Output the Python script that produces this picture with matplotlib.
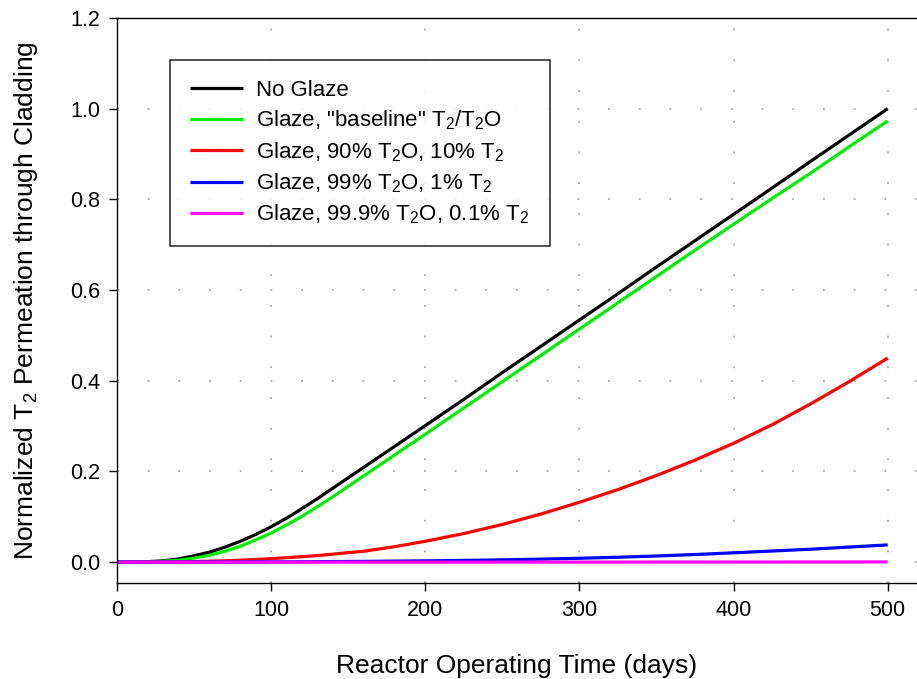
import matplotlib
matplotlib.use("Agg")
import matplotlib.pyplot as plt

plt.rcParams['font.family'] = ['Liberation Sans', 'DejaVu Sans']
plt.rcParams['mathtext.fontset'] = 'custom'
plt.rcParams['mathtext.rm'] = 'Liberation Sans'
plt.rcParams['mathtext.it'] = 'Liberation Sans:italic'

# days
days = [0, 10, 20, 30, 40, 50, 60, 70, 80, 90, 100, 110, 120, 130, 140, 150,
        160, 170, 180, 190, 200, 225, 250, 275, 300, 325, 350, 375, 400, 425,
        450, 475, 500]

no_glaze = [0.0, 0.0003, 0.001, 0.003, 0.007, 0.014, 0.022, 0.033, 0.046, 0.061,
            0.078, 0.097, 0.118, 0.140, 0.163, 0.186, 0.209, 0.232, 0.255, 0.278,
            0.301, 0.359, 0.418, 0.476, 0.534, 0.592, 0.651, 0.709, 0.767, 0.825,
            0.884, 0.942, 1.0]
baseline = [0.0, 0.0002, 0.0006, 0.002, 0.004, 0.009, 0.015, 0.024, 0.035, 0.049,
            0.064, 0.082, 0.101, 0.122, 0.144, 0.167, 0.190, 0.213, 0.236, 0.259,
            0.282, 0.340, 0.398, 0.456, 0.514, 0.572, 0.630, 0.688, 0.745, 0.802,
            0.858, 0.916, 0.973]
t2o_90 = [0.0, 0.0, 0.0001, 0.0003, 0.0007, 0.0013, 0.002, 0.003, 0.0042, 0.0058,
          0.0077, 0.0098, 0.012, 0.0145, 0.0175, 0.021, 0.024, 0.029, 0.034, 0.040,
          0.046, 0.063, 0.083, 0.106, 0.132, 0.160, 0.191, 0.225, 0.262, 0.303,
          0.349, 0.398, 0.450]
t2o_99 = [0.0, 0.0, 0.0, 0.0, 0.0, 0.0001, 0.0001, 0.0002, 0.0003, 0.0004,
          0.0005, 0.0006, 0.0008, 0.001, 0.0012, 0.0014, 0.0016, 0.0019, 0.0022, 0.0025,
          0.0028, 0.0038, 0.005, 0.0066, 0.0085, 0.0108, 0.0135, 0.0168, 0.0205, 0.0245,
          0.0285, 0.0332, 0.038]
t2o_999 = [0.0, 0.0, 0.0, 0.0, 0.0, 0.0, 0.0, 0.0, 0.0, 0.0,
           0.0, 0.0, 0.0, 0.0, 0.0, 0.0, 0.0, 0.0, 0.0, 0.0,
           0.0, 0.0, 0.0001, 0.0001, 0.0001, 0.0001, 0.0002, 0.0002, 0.0003, 0.0003,
           0.0004, 0.0004, 0.0005]

labels = ['No Glaze',
          r'Glaze, "baseline" $\mathregular{T_2/T_2O}$',
          r'Glaze, 90% $\mathregular{T_2O}$, 10% $\mathregular{T_2}$',
          r'Glaze, 99% $\mathregular{T_2O}$, 1% $\mathregular{T_2}$',
          r'Glaze, 99.9% $\mathregular{T_2O}$, 0.1% $\mathregular{T_2}$']
colors = ['black', '#00ee00', '#ff0000', '#0000ff', '#ff00ff']
series = [no_glaze, baseline, t2o_90, t2o_99, t2o_999]

fig = plt.figure(figsize=(9.17, 6.79), dpi=100)
ax = fig.add_axes([0.1276, 0.1414, 0.8724, 0.8321])

for ys, c, lab in zip(series, colors, labels):
    ax.plot(days, ys, color=c, lw=2.3, label=lab, solid_capstyle='butt')

ax.set_xlim(0, 519)
ax.set_ylim(-0.046, 1.2)
ax.set_xticks([0, 100, 200, 300, 400, 500])
ax.set_yticks([0.0, 0.2, 0.4, 0.6, 0.8, 1.0, 1.2])
ax.set_yticklabels(['%.1f' % v for v in [0.0, 0.2, 0.4, 0.6, 0.8, 1.0, 1.2]])
ax.tick_params(direction='out', length=6, width=1, labelsize=15.5, pad=6)
ax.spines['right'].set_visible(False)
for s in ['left', 'top', 'bottom']:
    ax.spines[s].set_linewidth(1.0)

ax.grid(True, color='#a8a8a8', linestyle=(0, (1, 16)), linewidth=1.3)
ax.set_axisbelow(True)

ax.set_xlabel('Reactor Operating Time (days)', fontsize=19, labelpad=24)
ax.set_ylabel(r'Normalized $\mathregular{T_2}$ Permeation through Cladding', fontsize=19, labelpad=22)

leg = ax.legend(loc='upper left', bbox_to_anchor=(0.066, 0.926), borderaxespad=0,
                fontsize=16, frameon=True, fancybox=False, edgecolor='black',
                handlelength=2.4, handletextpad=0.6, labelspacing=0.35,
                borderpad=0.9)
leg.get_frame().set_linewidth(1.2)

fig.savefig('out.png', dpi=100)
